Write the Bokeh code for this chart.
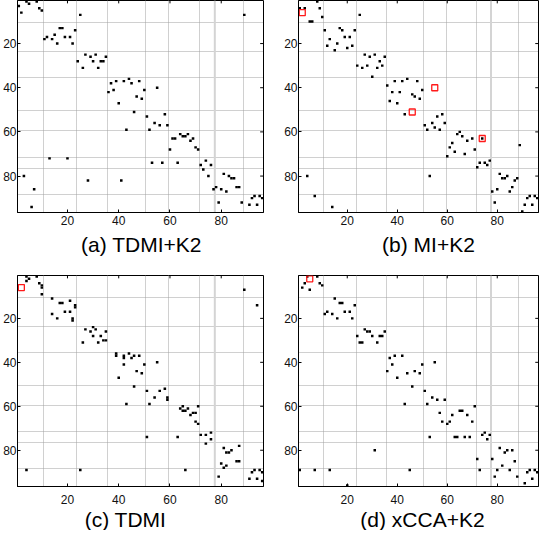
from bokeh.plotting import figure
from bokeh.layouts import column, row
from bokeh.models import Range1d, FixedTicker, Span, ColumnDataSource, Label
from bokeh.embed import file_html
from bokeh.resources import INLINE

N = 96
tick_values = [20, 40, 60, 80]
x_bounds = [10.5, 23.5, 35.5, 50.5, 59.5, 71.5, 88.5]
x_bound_light = 77.5
y_bounds = [10.5, 23.5, 35.5, 50.5, 59.5, 71.5, 76.5, 88.5]

titles = ["(a) TDMI+K2", "(b) MI+K2", "(c) TDMI", "(d) xCCA+K2"]

# panel (a): column index, row index of each non-zero entry
a_cols = [1, 2, 4, 5, 8, 9, 10, 25, 89,
          11, 12, 14, 15, 16, 17, 18, 19, 21, 22, 23,
          24, 26, 27, 29, 30, 31, 32, 33, 34, 35,
          36, 37, 38, 39, 40, 42, 44, 45, 46, 47, 48, 49, 50, 55, 43,
          51, 52, 54, 56, 58, 59,
          60, 61, 62, 64, 65, 66, 67, 68, 69, 70, 71,
          72, 73, 74, 75, 76,
          53, 57, 63, 13, 20, 28, 41, 3, 7, 6,
          77, 78, 80, 79, 81, 82, 83, 84, 85, 86, 87, 88,
          91, 92, 93, 94, 95, 96]
a_rows = [3, 6, 1, 2, 1, 4, 5, 7, 7,
          18, 17, 18, 16, 20, 13, 13, 17, 17, 20, 14,
          28, 31, 25, 26, 28, 25, 31, 28, 28, 26,
          42, 38, 41, 37, 47, 37, 36, 38, 51, 44, 37, 45, 41, 40, 59,
          53, 59, 56, 57, 52, 57,
          68, 63, 63, 61, 62, 62, 61, 64, 63, 67, 68,
          75, 77, 73, 80, 75,
          74, 74, 74, 72, 72, 82, 82, 80, 86, 94,
          86, 85, 86, 92, 79, 87, 80, 81, 81, 85, 85, 92,
          93, 90, 89, 93, 89, 90]
a_red_cols = []
a_red_rows = []

b_cols = [1, 3, 8, 9, 10, 5, 6, 25,
          11, 12, 13, 15, 16, 17, 18, 19, 20, 21, 22, 23,
          24, 26, 27, 28, 29, 30, 31, 32, 33, 34, 35,
          36, 37, 38, 39, 40, 41, 42, 43, 44, 46, 47, 48, 49, 50,
          51, 52, 54, 55, 56, 57, 58, 59,
          60, 61, 62, 63, 64, 65, 66, 67, 68, 70, 71, 74,
          72, 73, 75, 76, 77,
          89, 4, 7, 14, 53,
          78, 79, 80, 81, 82, 83, 84, 85, 86, 87, 88,
          90, 91, 92, 93, 94, 95, 96]
b_rows = [4, 4, 1, 4, 8, 10, 10, 7,
          14, 21, 18, 23, 20, 13, 14, 17, 22, 17, 21, 14,
          30, 31, 25, 30, 26, 35, 25, 31, 28, 30, 26,
          39, 46, 42, 37, 47, 42, 37, 52, 36, 43, 44, 37, 45, 41,
          57, 59, 56, 58, 53, 59, 52, 56,
          71, 67, 65, 69, 61, 60, 62, 70, 64, 63, 68, 63,
          76, 74, 74, 75, 73,
          66, 80, 89, 94, 80,
          87, 92, 86, 79, 81, 81, 80, 87, 85, 82, 81,
          96, 93, 90, 89, 93, 89, 90]
b_red_cols = [2, 55, 46, 74]
b_red_rows = [6, 40, 51, 63]

c_cols = [4, 4, 5, 8, 9, 10, 10, 10, 89, 94,
          14, 14, 17, 18, 19, 21, 21, 16, 22, 22, 23, 23,
          26, 27, 29, 30, 31, 30, 32, 33, 34, 35, 35,
          39, 39, 42, 42, 42, 44, 45, 46, 48, 50, 47, 49, 40, 46, 55, 43,
          51, 52, 54, 56, 58, 59, 59,
          51, 63,
          64, 65, 65, 66, 67, 68, 69, 70, 70, 71, 71,
          72, 74, 74, 76, 76,
          81, 82, 83, 84, 87, 86, 87, 80, 81, 82, 79,
          91, 92, 93, 94, 95, 96, 96,
          4, 25, 66]
c_rows = [1, 3, 2, 1, 4, 5, 6, 9, 7, 14,
          11, 18, 13, 13, 17, 17, 12, 20, 20, 21, 14, 15,
          31, 25, 26, 24, 25, 28, 31, 28, 30, 30, 26,
          36, 37, 37, 38, 41, 36, 38, 37, 37, 41, 44, 45, 47, 51, 40, 59,
          53, 59, 56, 53, 52, 56, 57,
          74, 74,
          61, 60, 62, 62, 61, 64, 63, 63, 67, 68, 60,
          73, 73, 77, 72, 75,
          79, 81, 81, 80, 78, 85, 85, 86, 88, 87, 92,
          93, 90, 89, 93, 89, 90, 94,
          89, 89, 89]
c_red_cols = [2]
c_red_rows = [6]

d_cols = [2, 3, 4, 5, 8, 9, 10,
          11, 12, 14, 15, 16, 17, 18, 19, 21, 22, 23,
          24, 25, 26, 27, 28, 29, 30, 32, 33, 34, 35,
          36, 37, 38, 39, 40, 42, 44, 47, 49, 50, 46, 43, 55,
          51, 52, 54, 56, 59, 57, 58, 60, 61, 62, 71, 65, 66, 68, 70,
          53, 63, 64, 67, 69,
          72, 73, 74, 75, 76, 77,
          78, 79, 80, 81, 82, 83, 84, 85, 86, 87, 88,
          91, 92, 93, 94, 95, 96,
          1, 7, 13, 31, 45, 20]
d_rows = [6, 4, 1, 7, 1, 4, 5,
          18, 17, 18, 11, 20, 13, 13, 17, 17, 20, 14,
          28, 31, 31, 25, 26, 26, 28, 31, 28, 28, 26,
          44, 38, 41, 37, 47, 37, 45, 44, 45, 41, 51, 59, 40,
          53, 59, 56, 57, 57, 63, 67, 68, 67, 64, 60, 62, 62, 64, 67,
          74, 74, 74, 74, 74,
          84, 89, 73, 72, 75, 73,
          84, 92, 89, 79, 87, 81, 80, 89, 80, 85, 92,
          95, 90, 89, 93, 89, 90,
          89, 89, 89, 80, 89, 96]
d_red_cols = [5]
d_red_rows = [2]

FONT = "Liberation Sans"
LO, HI = 0.5, N + 0.5
TICK_LEN = 1.3  # inward tick length on the top / right edges, in cells


def make_panel(cols, rows, red_cols, red_rows, width, height,
               bl, br, bt, bb, label_standoff):
    p = figure(width=width, height=height, output_backend="svg",
               toolbar_location=None, tools="",
               x_range=Range1d(LO, HI), y_range=Range1d(HI, LO),
               min_border_left=bl, min_border_right=br,
               min_border_top=bt, min_border_bottom=bb)
    p.background_fill_color = "white"
    p.border_fill_color = "white"
    p.outline_line_color = "black"
    p.outline_line_width = 1
    p.outline_line_alpha = 1

    for ax in (p.xaxis[0], p.yaxis[0]):
        ax.ticker = FixedTicker(ticks=tick_values)
        ax.major_label_text_font = FONT
        ax.major_label_text_font_size = "12px"
        ax.major_label_text_color = "#111111"
        ax.major_tick_in = 3
        ax.major_tick_out = 0
        ax.minor_tick_line_color = None
        ax.axis_line_color = "black"
        ax.major_tick_line_color = "black"
    p.xaxis[0].major_label_standoff = label_standoff
    p.yaxis[0].major_label_standoff = 1

    p.xgrid.ticker = FixedTicker(ticks=x_bounds)
    p.ygrid.ticker = FixedTicker(ticks=y_bounds)
    for g in (p.xgrid[0], p.ygrid[0]):
        g.grid_line_color = "#a0a0a0"
        g.grid_line_dash = "1 1"
        g.grid_line_width = 1
    p.add_layout(Span(location=x_bound_light, dimension="height",
                      line_color="#d4d4d4", line_width=2, level="underlay"))

    # box ticks on the top and right edges (pointing inward)
    k = len(tick_values)
    p.segment(x0=tick_values, x1=tick_values, y0=[LO] * k,
              y1=[LO + TICK_LEN] * k, line_color="black", line_width=1)
    p.segment(x0=[HI] * k, x1=[HI - TICK_LEN] * k, y0=tick_values,
              y1=tick_values, line_color="black", line_width=1)

    src = ColumnDataSource(dict(x=cols, y=rows))
    p.rect(x="x", y="y", width=1.0, height=1.1, source=src,
           fill_color="black", line_color=None)
    if red_cols:
        rsrc = ColumnDataSource(dict(x=red_cols, y=red_rows))
        p.scatter(x="x", y="y", source=rsrc, marker="square", size=6,
                  fill_color=None, line_color="#ff1a1a", line_width=1.3)
    return p


def make_caption(text, width, height, cx, cy):
    c = figure(width=width, height=height, output_backend="svg",
               toolbar_location=None, tools="",
               x_range=Range1d(0, width), y_range=Range1d(0, height),
               min_border=0)
    c.axis.visible = False
    c.grid.visible = False
    c.outline_line_color = None
    c.background_fill_color = "white"
    c.border_fill_color = "white"
    c.add_layout(Label(x=cx, y=cy, text=text, text_align="center",
                       text_baseline="middle", text_font=FONT,
                       text_font_size="21px", text_color="black"))
    return c


pa = make_panel(a_cols, a_rows, a_red_cols, a_red_rows, 281, 230, 15, 18, 0, 18, 3)
pb = make_panel(b_cols, b_rows, b_red_cols, b_red_rows, 258, 230, 15, 1, 0, 18, 3)
ca = make_caption(titles[0], 281, 36, 141, 22)
cb = make_caption(titles[1], 258, 36, 147, 22)
pc = make_panel(c_cols, c_rows, c_red_cols, c_red_rows, 281, 242, 15, 18, 9, 22, 8)
pd = make_panel(d_cols, d_rows, d_red_cols, d_red_rows, 258, 242, 15, 1, 9, 22, 8)
cc = make_caption(titles[2], 281, 22, 125, 11)
cd = make_caption(titles[3], 258, 22, 141, 11)

layout = column(row(pa, pb, spacing=0), row(ca, cb, spacing=0),
                row(pc, pd, spacing=0), row(cc, cd, spacing=0), spacing=0)

open("out.html", "w").write(file_html(layout, INLINE))
